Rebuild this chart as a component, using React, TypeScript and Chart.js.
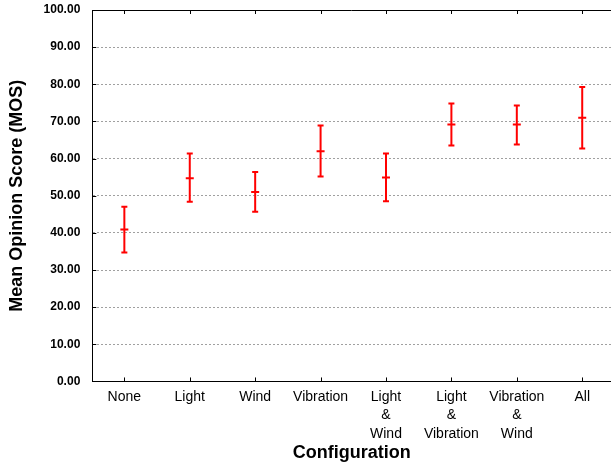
import React, { useEffect, useRef } from "react";
import { Chart, registerables } from "chart.js";

Chart.register(...registerables);

const categories = ["None", "Light", "Wind", "Vibration", "Light & Wind", "Light & Vibration", "Vibration & Wind", "All"];
const tickLabels: string[][] = [
  ["None"],
  ["Light"],
  ["Wind"],
  ["Vibration"],
  ["Light", "&", "Wind"],
  ["Light", "&", "Vibration"],
  ["Vibration", "&", "Wind"],
  ["All"],
];
const meanValues = [40.9, 54.7, 51.0, 62.0, 54.9, 69.2, 69.2, 71.0];
const lowerValues = [34.7, 48.4, 45.7, 55.2, 48.5, 63.5, 63.8, 62.7];
const upperValues = [47.0, 61.4, 56.4, 68.9, 61.4, 74.8, 74.3, 79.3];

const FONT = "'Liberation Sans', Arial, Helvetica, sans-serif";
const RED = "#ff0000";

const framePlugin = {
  id: "frame",
  afterDraw(chart: any) {
    const { ctx, chartArea, scales } = chart;
    const { left, right, top, bottom } = chartArea;
    const x = scales.x;
    const y = scales.y;
    ctx.save();
    ctx.strokeStyle = "#000";
    ctx.lineWidth = 1;
    ctx.beginPath();
    const t = Math.round(top) + 0.5;
    ctx.moveTo(left, t);
    ctx.lineTo(right, t);
    x.ticks.forEach((tk: any) => {
      const px = Math.round(x.getPixelForValue(tk.value)) + 0.5;
      ctx.moveTo(px, bottom);
      ctx.lineTo(px, bottom - 4);
      ctx.moveTo(px, top);
      ctx.lineTo(px, top + 4);
    });
    y.ticks.forEach((tk: any) => {
      const py = Math.round(y.getPixelForValue(tk.value)) + 0.5;
      ctx.moveTo(left, py);
      ctx.lineTo(left + 4, py);
    });
    ctx.stroke();
    ctx.restore();
  },
};

export default function App() {
  const ref = useRef<HTMLCanvasElement | null>(null);

  useEffect(() => {
    if (!ref.current) return;
    const whiskers: any[] = [];
    const caps: any[] = [];
    const means: any[] = [];
    categories.forEach((_, i) => {
      whiskers.push({ x: i, y: lowerValues[i] });
      whiskers.push({ x: i, y: upperValues[i] });
      whiskers.push({ x: i, y: null });
      caps.push({ x: i, y: lowerValues[i] });
      caps.push({ x: i, y: upperValues[i] });
      means.push({ x: i, y: meanValues[i] });
    });

    const chart = new Chart(ref.current, {
      type: "scatter",
      data: {
        datasets: [
          {
            data: whiskers,
            showLine: true,
            spanGaps: false,
            borderColor: RED,
            borderWidth: 2,
            pointRadius: 0,
          },
          {
            data: caps,
            pointStyle: "line",
            pointRadius: 3,
            borderColor: RED,
            borderWidth: 2,
          },
          {
            data: means,
            pointStyle: "line",
            pointRadius: 4,
            borderColor: RED,
            borderWidth: 2,
          },
        ] as any,
      },
      plugins: [framePlugin],
      options: {
        animation: false,
        responsive: false,
        events: [],
        layout: { autoPadding: false, padding: { top: 10, right: 0, bottom: 0, left: 0 } },
        plugins: { legend: { display: false }, tooltip: { enabled: false } },
        scales: {
          x: {
            type: "linear",
            min: -0.49,
            max: 7.44,
            afterBuildTicks: (scale: any) => {
              scale.ticks = categories.map((_, i) => ({ value: i }));
            },
            afterFit: (scale: any) => {
              scale.paddingLeft = 0;
              scale.paddingRight = 0;
            },
            grid: { display: false, drawTicks: false },
            border: { display: true, color: "#000", width: 1 },
            ticks: {
              autoSkip: false,
              maxRotation: 0,
              minRotation: 0,
              padding: 6,
              color: "#000",
              font: { family: FONT, size: 14, lineHeight: 1.32 },
              callback: (v: any) => tickLabels[Math.round(Number(v))] ?? "",
            },
            title: {
              display: true,
              text: "Configuration",
              color: "#000",
              font: { family: FONT, size: 18, weight: "bold" },
              padding: { top: -6.5, bottom: -1 },
            },
          },
          y: {
            min: 0,
            max: 100,
            afterFit: (scale: any) => {
              scale.paddingTop = 0;
              scale.paddingBottom = 0;
            },
            ticks: {
              stepSize: 10,
              padding: 12,
              color: "#000",
              font: { family: FONT, size: 12, weight: "bold" },
              callback: (v: any) => Number(v).toFixed(2),
            },
            grid: {
              drawTicks: false,
              color: (c: any) => (c.tick && (c.tick.value === 0 || c.tick.value === 100) ? "rgba(0,0,0,0)" : "#a0a0a0"),
              lineWidth: 1,
            },
            border: { display: true, color: "#000", width: 1, dash: [2, 2] },
            title: {
              display: true,
              text: "Mean Opinion Score (MOS)",
              color: "#000",
              font: { family: FONT, size: 18, weight: "bold" },
              padding: { top: 6, bottom: 4 },
            },
          },
        },
      } as any,
    });
    return () => chart.destroy();
  }, []);

  return (
    <div style={{ position: "absolute", left: 0, top: 0, width: 611, height: 463 }}>
      <canvas ref={ref} width={611} height={463} style={{ display: "block" }} />
    </div>
  );
}
